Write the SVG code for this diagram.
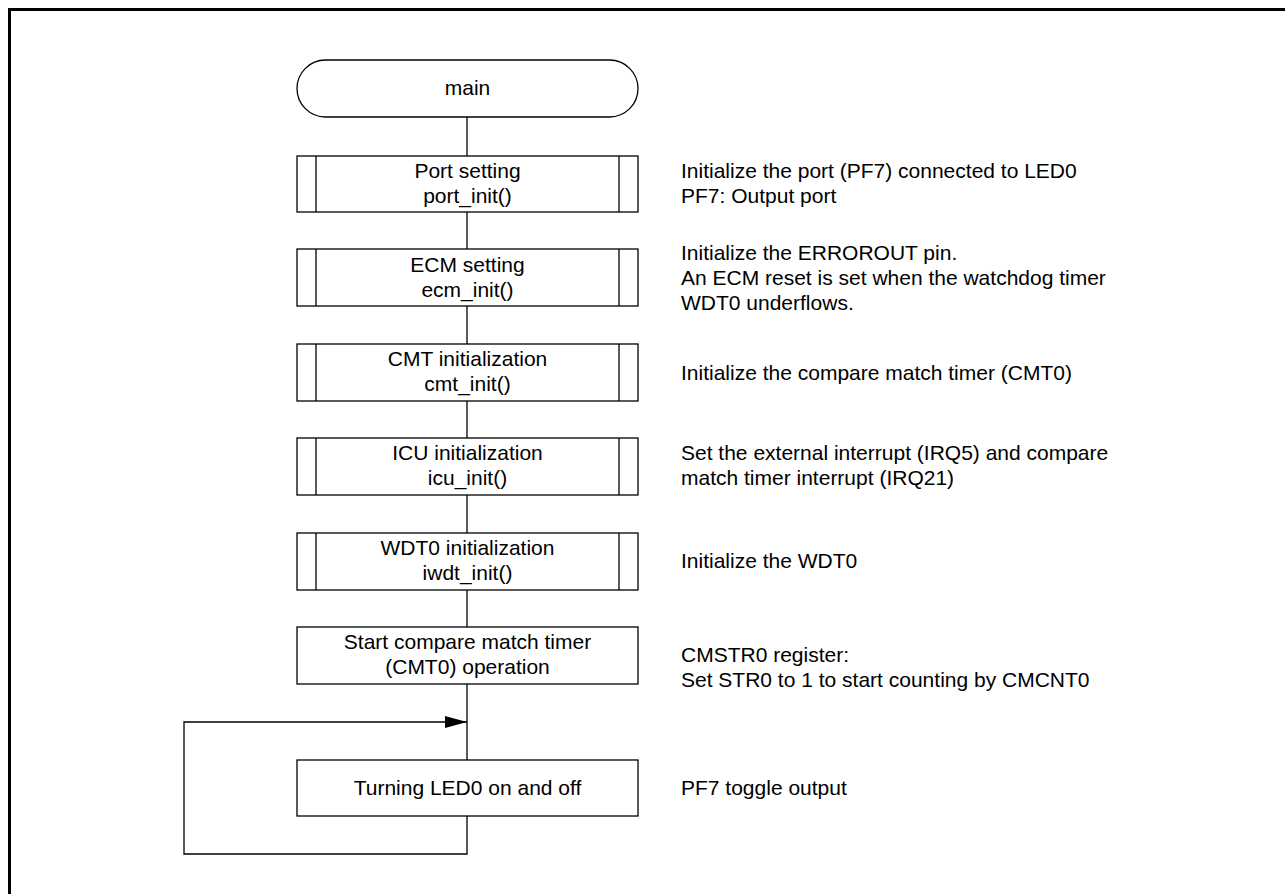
<svg xmlns="http://www.w3.org/2000/svg" width="1285" height="894" viewBox="0 0 1285 894">
<style>
.box{fill:#fff;stroke:#000;stroke-width:1.3}
.bar{stroke:#000;stroke-width:1.3}
.ln{fill:none;stroke:#000;stroke-width:1.3}
text{font-family:"Liberation Sans",Arial,sans-serif;font-size:21px;fill:#000}
.c{text-anchor:middle}
</style>
<defs>
<marker id="arr" markerWidth="22" markerHeight="12" refX="22" refY="6" orient="auto" markerUnits="userSpaceOnUse">
<path d="M0,0 L22,6 L0,12 Z" fill="#000"/>
</marker>
</defs>
<rect width="1285" height="894" fill="#fff"/>
<path d="M9.5,894 V9.5 H1285" fill="none" stroke="#000" stroke-width="3"/>
<g id="connectors">
<line class="ln" x1="467" y1="117" x2="467" y2="156"/>
<line class="ln" x1="467" y1="212" x2="467" y2="249"/>
<line class="ln" x1="467" y1="306" x2="467" y2="344"/>
<line class="ln" x1="467" y1="401" x2="467" y2="438"/>
<line class="ln" x1="467" y1="495" x2="467" y2="533"/>
<line class="ln" x1="467" y1="590" x2="467" y2="627"/>
<line class="ln" x1="467" y1="684" x2="467" y2="760"/>
<path class="ln" d="M467,816 V854 H184 V722 H467" marker-end="url(#arr)"/>
</g>
<g id="main">
<rect class="box" x="297" y="60" width="341" height="57" rx="28.5" ry="28.5"/>
<text class="c" x="467.5" y="95">main</text>
</g>
<g id="port">
<rect class="box" x="297" y="156" width="341" height="56"/>
<line class="bar" x1="316" y1="156" x2="316" y2="212"/>
<line class="bar" x1="619" y1="156" x2="619" y2="212"/>
<text class="c" x="467.5" y="178">Port setting</text>
<text class="c" x="467.5" y="203">port_init()</text>
</g>
<g id="ecm">
<rect class="box" x="297" y="249" width="341" height="57"/>
<line class="bar" x1="316" y1="249" x2="316" y2="306"/>
<line class="bar" x1="619" y1="249" x2="619" y2="306"/>
<text class="c" x="467.5" y="272">ECM setting</text>
<text class="c" x="467.5" y="297">ecm_init()</text>
</g>
<g id="cmt">
<rect class="box" x="297" y="344" width="341" height="57"/>
<line class="bar" x1="316" y1="344" x2="316" y2="401"/>
<line class="bar" x1="619" y1="344" x2="619" y2="401"/>
<text class="c" x="467.5" y="366">CMT initialization</text>
<text class="c" x="467.5" y="391">cmt_init()</text>
</g>
<g id="icu">
<rect class="box" x="297" y="438" width="341" height="57"/>
<line class="bar" x1="316" y1="438" x2="316" y2="495"/>
<line class="bar" x1="619" y1="438" x2="619" y2="495"/>
<text class="c" x="467.5" y="460">ICU initialization</text>
<text class="c" x="467.5" y="485">icu_init()</text>
</g>
<g id="wdt">
<rect class="box" x="297" y="533" width="341" height="57"/>
<line class="bar" x1="316" y1="533" x2="316" y2="590"/>
<line class="bar" x1="619" y1="533" x2="619" y2="590"/>
<text class="c" x="467.5" y="555">WDT0 initialization</text>
<text class="c" x="467.5" y="580">iwdt_init()</text>
</g>
<g id="start">
<rect class="box" x="297" y="627" width="341" height="57"/>
<text class="c" x="467.5" y="649">Start compare match timer</text>
<text class="c" x="467.5" y="674">(CMT0) operation</text>
</g>
<g id="toggle">
<rect class="box" x="297" y="760" width="341" height="56"/>
<text class="c" x="467.5" y="795">Turning LED0 on and off</text>
</g>
<g id="notes">
<text x="681" y="178">Initialize the port (PF7) connected to LED0</text>
<text x="681" y="203">PF7: Output port</text>
<text x="681" y="260">Initialize the ERROROUT pin.</text>
<text x="681" y="285">An ECM reset is set when the watchdog timer</text>
<text x="681" y="310">WDT0 underflows.</text>
<text x="681" y="380">Initialize the compare match timer (CMT0)</text>
<text x="681" y="460">Set the external interrupt (IRQ5) and compare</text>
<text x="681" y="485">match timer interrupt (IRQ21)</text>
<text x="681" y="568">Initialize the WDT0</text>
<text x="681" y="662">CMSTR0 register:</text>
<text x="681" y="687">Set STR0 to 1 to start counting by CMCNT0</text>
<text x="681" y="795">PF7 toggle output</text>
</g>
</svg>
